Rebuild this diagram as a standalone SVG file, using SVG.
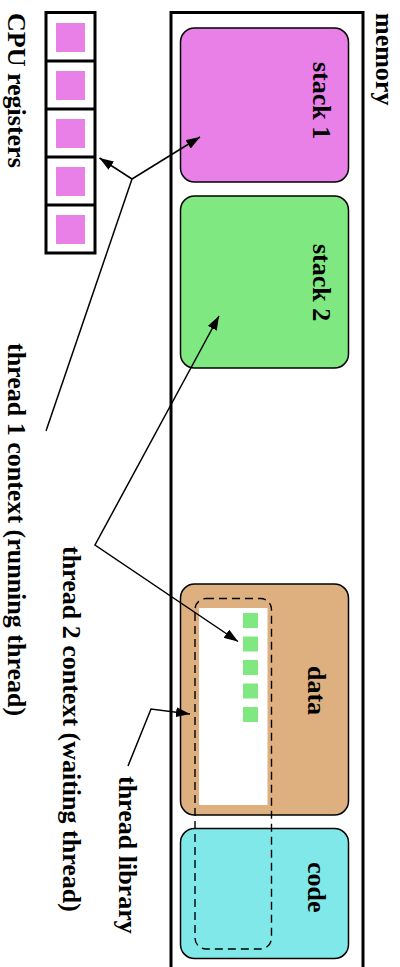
<svg xmlns="http://www.w3.org/2000/svg" width="400" height="967" viewBox="0 0 400 967">
<style>
text{font-family:"Liberation Serif","Times New Roman",serif;font-weight:bold;font-size:26px;fill:#000}
.frame{fill:#fff;stroke:#000;stroke-width:3}
.div{stroke:#000;stroke-width:3}
.pink{fill:#E880E8}
.green{fill:#80E880}
.conn{fill:none;stroke:#000;stroke-width:1.5}
.box{stroke:#000;stroke-width:1.5}
</style>
<defs>
<marker id="arr" viewBox="0 0 14 10" refX="14" refY="5" markerWidth="14" markerHeight="10" markerUnits="userSpaceOnUse" orient="auto-start-reverse">
<path d="M0,0 L14,5 L0,10 z" fill="#000"/>
</marker>
</defs>
<rect width="400" height="967" fill="#fff"/>

<g id="memory">
<rect class="frame" x="171" y="12.5" width="192" height="980"/>
<text transform="translate(376,13) rotate(90)">memory</text>
</g>

<g id="stack1">
<rect class="box" x="180.5" y="28" width="168" height="154" rx="14" ry="14" fill="#E880E8"/>
<text transform="translate(313,62) rotate(90)">stack 1</text>
</g>

<g id="stack2">
<rect class="box" x="180.5" y="196" width="168" height="172" rx="14" ry="14" fill="#80E880"/>
<text transform="translate(313,244) rotate(90)">stack 2</text>
</g>

<g id="data">
<rect class="box" x="180.5" y="584" width="168" height="231" rx="14" ry="14" fill="#DEB080"/>
<rect x="199" y="608" width="68.5" height="197" fill="#fff"/>
<rect class="green" x="243" y="613" width="15" height="15"/>
<rect class="green" x="243" y="636.5" width="15" height="15"/>
<rect class="green" x="243" y="660" width="15" height="15"/>
<rect class="green" x="243" y="683.5" width="15" height="15"/>
<rect class="green" x="243" y="707" width="15" height="15"/>
<text transform="translate(308,666) rotate(90)">data</text>
</g>

<g id="code">
<rect class="box" x="180.5" y="828.5" width="168" height="130" rx="14" ry="14" fill="#80E8E8"/>
<text transform="translate(308,862) rotate(90)">code</text>
</g>

<g id="thread-library">
<rect x="195" y="598.5" width="76.5" height="350.5" rx="11" ry="11" fill="none" stroke="#000" stroke-width="1.4" stroke-dasharray="8 5"/>
<text transform="translate(119,776) rotate(90)">thread library</text>
</g>

<g id="cpu-registers">
<rect class="frame" x="46" y="12.5" width="49" height="240.5"/>
<line class="div" x1="46" y1="61" x2="95" y2="61"/>
<line class="div" x1="46" y1="109" x2="95" y2="109"/>
<line class="div" x1="46" y1="157" x2="95" y2="157"/>
<line class="div" x1="46" y1="205" x2="95" y2="205"/>
<rect class="pink" x="56" y="23" width="29" height="29"/>
<rect class="pink" x="56" y="71" width="29" height="29"/>
<rect class="pink" x="56" y="119" width="29" height="29"/>
<rect class="pink" x="56" y="167" width="29" height="29"/>
<rect class="pink" x="56" y="215" width="29" height="29"/>
<text transform="translate(8,13) rotate(90)">CPU registers</text>
</g>

<g id="thread1-context">
<text transform="translate(8,343) rotate(90)">thread 1 context (running thread)</text>
</g>

<g id="thread2-context">
<text transform="translate(63,546) rotate(90)">thread 2 context (waiting thread)</text>
</g>

<g id="connectors">
<line class="conn" x1="46" y1="431" x2="132" y2="179"/>
<line class="conn" x1="132" y1="179" x2="99.5" y2="158" marker-end="url(#arr)"/>
<line class="conn" x1="132" y1="179" x2="200" y2="137" marker-end="url(#arr)"/>
<path class="conn" d="M219,316 L95,545 L238,641.5" marker-start="url(#arr)" marker-end="url(#arr)"/>
<path class="conn" d="M128,766 L151,709 L190,714" marker-end="url(#arr)"/>
</g>
</svg>
